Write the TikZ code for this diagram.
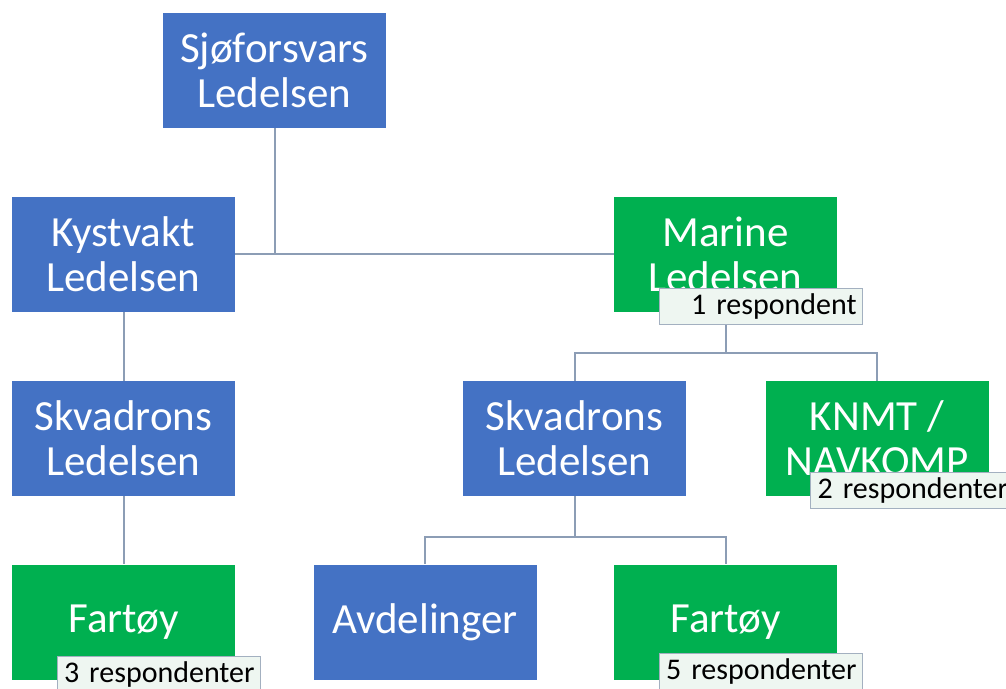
\documentclass[tikz,border=0pt]{standalone}
\usepackage{fontspec}
\setmainfont{Carlito}
\definecolor{orgblue}{HTML}{4472C4}
\definecolor{orggreen}{HTML}{00B050}
\definecolor{linkgray}{HTML}{8C9DB5}
\definecolor{tagfill}{HTML}{EEF6F1}
\definecolor{tagline}{HTML}{A3B0C0}
\tikzset{
    unit/.style={minimum width=111.5pt, minimum height=57.5pt, inner sep=0pt,
        align=center, text=white, font=\fontsize{21.5}{22.5}\selectfont},
    blueunit/.style={unit, fill=orgblue},
    greenunit/.style={unit, fill=orggreen},
    tag/.style={anchor=north west, fill=tagfill, draw=tagline, line width=0.5pt,
        minimum width=101.5pt, minimum height=18pt, text width=96pt, align=right,
        inner sep=0pt, font=\fontsize{15}{16}\selectfont},
    link/.style={draw=linkgray, line width=1pt}
}
\begin{document}
\begin{tikzpicture}[x=0.5pt, y=-0.5pt]
            \useasboundingbox (0, 0) rectangle (1006, 689);
            % level 1
            \node[blueunit] (sjo) at (274.5, 70.5) {Sjøforsvars\\Ledelsen};
            % level 2
            \node[blueunit] (kyst) at (123.5, 254.5) {Kystvakt\\Ledelsen};
            \node[greenunit] (marine) at (725.5, 254.5) {Marine\\Ledelsen};
            % level 3
            \node[blueunit] (skvL) at (123.5, 438.5) {Skvadrons\\Ledelsen};
            \node[blueunit] (skvM) at (574.5, 438.5) {Skvadrons\\Ledelsen};
            \node[greenunit] (knmt) at (877, 438.5) {KNMT /\\NAVKOMP};
            % level 4
            \node[greenunit] (fartL) at (123.5, 622) {Fartøy};
            \node[blueunit] (avd) at (425, 622) {Avdelinger};
            \node[greenunit] (fartR) at (725.5, 622) {Fartøy};
            % connectors
            \coordinate (mbar) at (725.5, 353);
            \coordinate (sbar) at (574.5, 537);
            \draw[link] (kyst.east) -- (marine.west);
            \draw[link] (sjo.south) -- (sjo.south |- kyst.east);
            \draw[link] (kyst.south) -- (skvL.north);
            \draw[link] (skvL.south) -- (fartL.north);
            \draw[link] (marine.south) -- (mbar);
            \draw[link] (skvM.north) |- (knmt.north |- mbar) -- (knmt.north);
            \draw[link] (skvM.south) -- (sbar);
            \draw[link] (avd.north) |- (fartR.north |- sbar) -- (fartR.north);
            % respondent tags
            \node[tag] (tagM) at ([xshift=22.5pt, yshift=12pt]marine.south west) {1 respondent};
            \node[tag] (tagK) at ([xshift=22.5pt, yshift=12pt]knmt.south west) {2 respondenter};
            \node[tag] (tagL) at ([xshift=22.5pt, yshift=12pt]fartL.south west) {3 respondenter};
            \node[tag] (tagR) at ([xshift=22.5pt, yshift=13.5pt]fartR.south west) {5 respondenter};
\end{tikzpicture}
\end{document}
